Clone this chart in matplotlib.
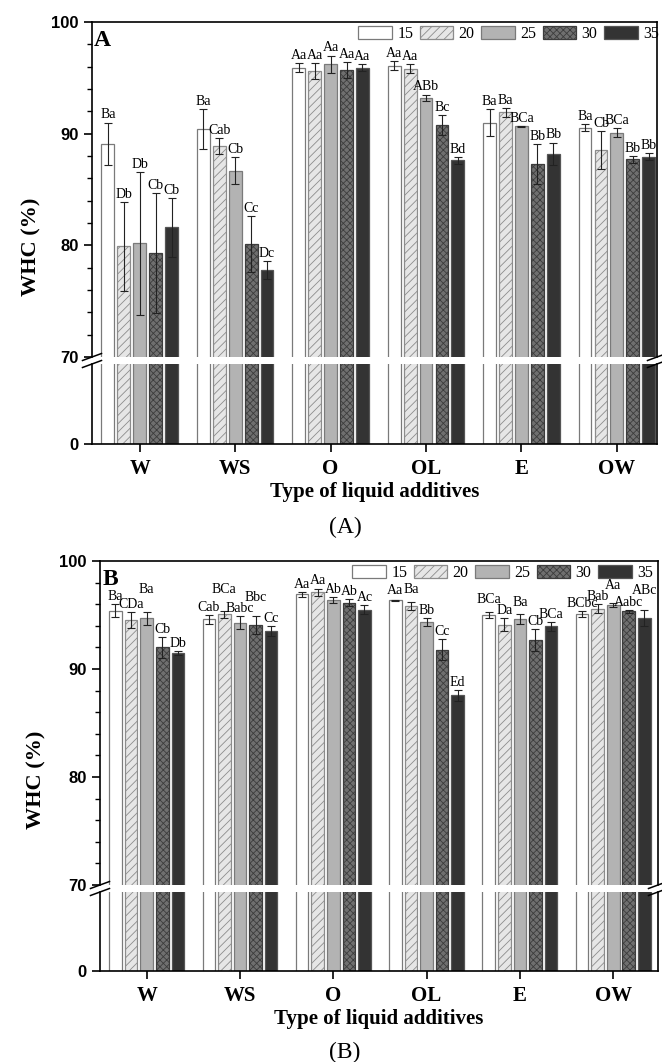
import numpy as np
import matplotlib.pyplot as plt
from matplotlib.lines import Line2D
from matplotlib.ticker import MultipleLocator

# Data (rows = additive, columns = temperature)
categories = ["W", "WS", "O", "OL", "E", "OW"]
temps = ["15", "20", "25", "30", "35"]

means_A = [
    [89.1, 79.9, 80.2, 79.3, 81.6],
    [90.4, 88.9, 86.7, 80.1, 77.8],
    [95.9, 95.6, 96.2, 95.7, 95.9],
    [96.1, 95.8, 93.2, 90.8, 87.6],
    [91.0, 91.9, 90.65, 87.3, 88.2],
    [90.55, 88.5, 90.1, 87.7, 87.95],
]
errs_A = [
    [1.9, 4.0, 6.4, 5.4, 2.6],
    [1.8, 0.7, 1.2, 2.5, 0.8],
    [0.4, 0.7, 0.8, 0.7, 0.3],
    [0.4, 0.4, 0.3, 0.9, 0.3],
    [1.2, 0.4, 0.05, 1.8, 1.0],
    [0.35, 1.7, 0.4, 0.3, 0.3],
]
letters_A = [
    ["Ba", "Db", "Db", "Cb", "Cb"],
    ["Ba", "Cab", "Cb", "Cc", "Dc"],
    ["Aa", "Aa", "Aa", "Aa", "Aa"],
    ["Aa", "Aa", "ABb", "Bc", "Bd"],
    ["Ba", "Ba", "BCa", "Bb", "Bb"],
    ["Ba", "Cb", "BCa", "Bb", "Bb"],
]

means_B = [
    [95.4, 94.5, 94.7, 92.0, 91.5],
    [94.6, 95.05, 94.3, 94.1, 93.5],
    [96.9, 97.1, 96.4, 96.15, 95.5],
    [96.35, 95.85, 94.35, 91.8, 87.55],
    [95.0, 94.1, 94.6, 92.7, 93.95],
    [95.1, 95.6, 95.95, 95.35, 94.7],
]
errs_B = [
    [0.6, 0.75, 0.6, 1.0, 0.2],
    [0.4, 0.3, 0.6, 0.85, 0.45],
    [0.2, 0.35, 0.3, 0.3, 0.4],
    [0.05, 0.4, 0.4, 1.0, 0.5],
    [0.3, 0.6, 0.45, 1.0, 0.4],
    [0.3, 0.4, 0.2, 0.15, 0.75],
]
letters_B = [
    ["Ba", "CDa", "Ba", "Cb", "Db"],
    ["Cab", "BCa", "Babc", "Bbc", "Cc"],
    ["Aa", "Aa", "Ab", "Ab", "Ac"],
    ["Aa", "Ba", "Bb", "Cc", "Ed"],
    ["BCa", "Da", "Ba", "Cb", "BCa"],
    ["BCbc", "Bab", "Aa", "Aabc", "ABc"],
]
# extra lift of some letter labels, as placed in the original
lift_A = [[0] * 5 for _ in range(6)]
lift_B = [
    [0, 0, 1.4, 0, 0],
    [0, 1.3, 0, 1.0, 0],
    [0, 0, 0, 0, 0],
    [0.2, 0.4, 0, 0, 0],
    [0.4, 0, 0.4, 0, 0],
    [0, 0, 0.9, 0, 1.1],
]

# Styles
faces = ["white", "#e6e6e6", "#b3b3b3", "#6f6f6f", "#333333"]
edges = ["#7a7a7a", "#8c8c8c", "#7a7a7a", "#3c3c3c", "#555555"]
hatches = [None, "////", None, "xxxxx", None]
serif = "Liberation Serif"
sans = "Liberation Sans"
plt.rcParams["hatch.linewidth"] = 0.6

W, H = 662, 1062
fig = plt.figure(figsize=(W / 100, H / 100), dpi=100)

pitch = 0.167
width = 0.135


def frac_rect(left, right, top, bottom):
    return [left / W, 1 - bottom / H, (right - left) / W, (bottom - top) / H]


def break_mark(xpx, ypx):
    dx, dy = 9.5, 3.5
    fig.add_artist(Line2D([(xpx - dx) / W, (xpx + dx) / W],
                          [1 - (ypx + dy) / H, 1 - (ypx - dy) / H],
                          transform=fig.transFigure, color="black", lw=1.1))


def draw_panel(left, right, top, brk_top, brk_bot, bottom, xmax,
               means, errs, letters, lifts, panel, caption, ylab_xy, cap_xy, legend_xy):
    ax_t = fig.add_axes(frac_rect(left, right, top, brk_top))
    ax_b = fig.add_axes(frac_rect(left, right, brk_bot, bottom))
    x = np.arange(len(categories))
    for j in range(len(temps)):
        vals = [row[j] for row in means]
        e = [row[j] for row in errs]
        labs = [row[j] for row in letters]
        dys = [row[j] for row in lifts]
        pos = x + (j - 2) * pitch
        for ax in (ax_t, ax_b):
            ax.bar(pos, vals, width, color=faces[j], edgecolor=edges[j],
                   hatch=hatches[j], linewidth=0.9, label=temps[j])
        ax_t.errorbar(pos, vals, yerr=e, fmt="none", ecolor="#222222",
                      elinewidth=0.8, capsize=3, capthick=0.8)
        for p, v, ee, t, dy in zip(pos, vals, e, labs, dys):
            ax_t.text(p, v + ee + 0.1 + dy, t, ha="center", va="bottom",
                      fontsize=10, family=serif)

    for ax in (ax_t, ax_b):
        ax.set_xlim(-0.5, xmax)
        for s in ax.spines.values():
            s.set_linewidth(1.2)
    ax_t.set_ylim(70, 100)
    ax_t.set_yticks([70, 80, 90, 100])
    ax_t.yaxis.set_minor_locator(MultipleLocator(2))
    ax_t.spines["bottom"].set_visible(False)
    ax_t.tick_params(axis="x", bottom=False, labelbottom=False)
    ax_b.set_ylim(0, 70)
    ax_b.set_yticks([0])
    ax_b.spines["top"].set_visible(False)
    ax_b.set_xticks(x)
    ax_b.set_xticklabels(categories, fontsize=15, fontweight="bold", family=serif)
    ax_b.tick_params(axis="x", direction="out", length=6, width=1.2, pad=5)
    for ax in (ax_t, ax_b):
        ax.tick_params(axis="y", which="major", direction="out", length=6, width=1.2)
        ax.tick_params(axis="y", which="minor", direction="out", length=3.5, width=1)
        for lab in ax.get_yticklabels():
            lab.set_fontsize(12)
            lab.set_fontweight("bold")
            lab.set_family(sans)
    ax_b.set_xlabel("Type of liquid additives", fontsize=15, fontweight="bold",
                    family=serif, labelpad=2)

    ax_t.text(0.004, 0.975, panel, transform=ax_t.transAxes, ha="left", va="top",
              fontsize=17, fontweight="bold", family=serif)

    ax_t.legend(ncol=5, loc="upper right", frameon=False,
                bbox_to_anchor=(legend_xy[0] / W, 1 - legend_xy[1] / H),
                bbox_transform=fig.transFigure, prop={"family": serif, "size": 11.5},
                handlelength=2.1, handleheight=0.8, handletextpad=0.35,
                columnspacing=0.4, borderpad=0, borderaxespad=0)

    fig.text(ylab_xy[0] / W, 1 - ylab_xy[1] / H, "WHC (%)", rotation=90,
             ha="center", va="center", fontsize=16, fontweight="bold", family=serif)
    fig.text(cap_xy[0] / W, 1 - cap_xy[1] / H, caption, ha="center", va="center",
             fontsize=17, family=serif)

    for xs in (left, right):
        break_mark(xs, brk_top)
        break_mark(xs, brk_bot)


draw_panel(92, 657, 22, 357, 364, 444, 5.42, means_A, errs_A, letters_A, lift_A,
           "A", "(A)", (31, 247), (345, 527), (659, 26))
draw_panel(100, 658, 561, 885, 892, 971, 5.48, means_B, errs_B, letters_B, lift_B,
           "B", "(B)", (36, 780), (345, 1052), (653, 565))

fig.savefig("out.png", dpi=100)
